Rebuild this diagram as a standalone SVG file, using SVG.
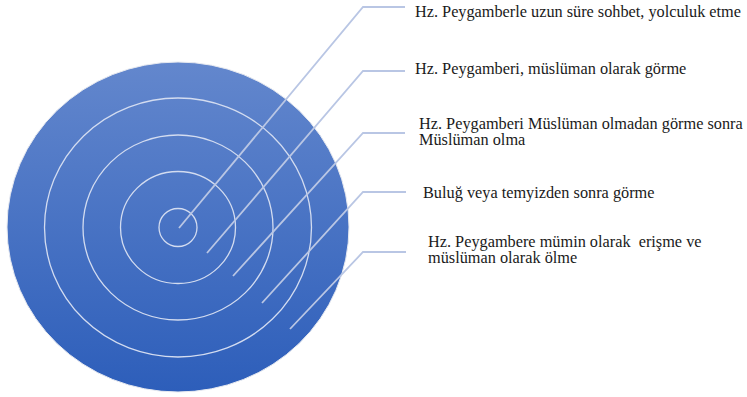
<svg xmlns="http://www.w3.org/2000/svg" width="747" height="397" viewBox="0 0 747 397">
<defs>
<linearGradient id="g" x1="0" y1="0" x2="0" y2="1">
<stop offset="0" stop-color="#6387CD"/>
<stop offset="1" stop-color="#2D5EBA"/>
</linearGradient>
<style>
.ring{fill:none;stroke:#D3DCF0;stroke-width:1.3}
.con{fill:none;stroke:#B9C6E4;stroke-width:1.8}
.lbl{font-family:"Liberation Serif","Times New Roman",serif;font-size:16.3px;fill:#1a1a1a}
</style>
</defs>
<rect width="747" height="397" fill="#ffffff"/>
<g id="target">
<ellipse cx="178" cy="227" rx="171" ry="165" fill="url(#g)" stroke="#e6e9f0" stroke-width="1"/>
<ellipse class="ring" cx="178" cy="227.5" rx="133.5" ry="129.5"/>
<ellipse class="ring" cx="178" cy="227.5" rx="95" ry="92.5"/>
<ellipse class="ring" cx="178" cy="227.5" rx="57.5" ry="56"/>
<ellipse class="ring" cx="178" cy="227.5" rx="19" ry="19"/>
</g>
<g id="connectors">
<polyline class="con" points="179,228 363,7 405,7"/>
<polyline class="con" points="207,253 363,71 405,71"/>
<polyline class="con" points="233,276 363,133 405,133"/>
<polyline class="con" points="262,303 363,192 406,192"/>
<polyline class="con" points="290,329 363,252 406,252"/>
</g>
<g id="label1"><text class="lbl" x="415" y="17" textLength="326" lengthAdjust="spacing">Hz. Peygamberle uzun süre sohbet, yolculuk etme</text></g>
<g id="label2"><text class="lbl" x="415" y="74">Hz. Peygamberi, müslüman olarak görme</text></g>
<g id="label3"><text class="lbl" x="419" y="129">Hz. Peygamberi Müslüman olmadan görme sonra</text><text class="lbl" x="419" y="145">Müslüman olma</text></g>
<g id="label4"><text class="lbl" x="423" y="198">Buluğ veya temyizden sonra görme</text></g>
<g id="label5"><text class="lbl" x="428" y="247" xml:space="preserve">Hz. Peygambere mümin olarak  erişme ve</text><text class="lbl" x="428" y="263">müslüman olarak ölme</text></g>
</svg>
